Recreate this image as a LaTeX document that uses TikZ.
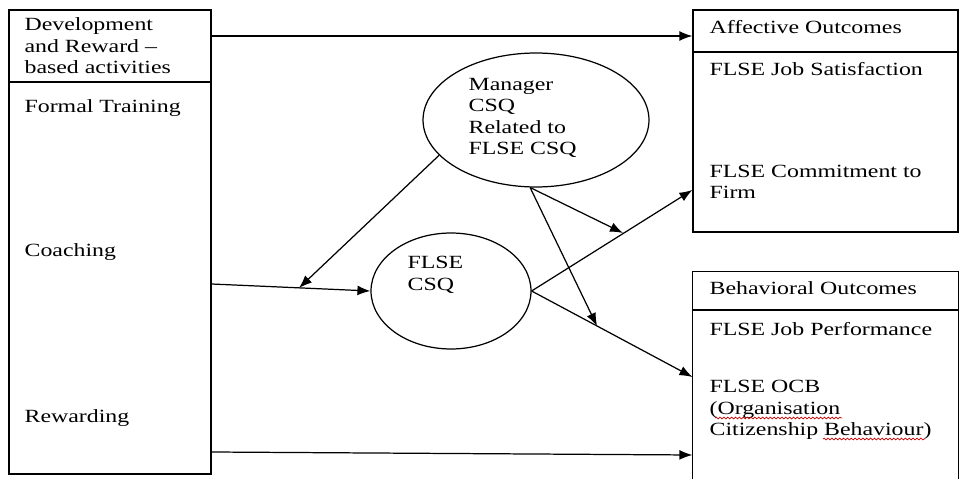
\documentclass[tikz,border=0pt]{standalone}
\usepackage{fontspec}
\setmainfont[FakeStretch=1.28]{Liberation Serif}
\usetikzlibrary{arrows.meta,shapes.geometric,decorations.pathmorphing}

\begin{document}
\begin{tikzpicture}[x=0.02cm,y=-0.02cm,>={Latex[length=7.4pt,width=5.6pt]},line width=0.7pt,
	font=\fontsize{10.6}{12.2}\selectfont,
	box/.style={draw,rectangle,inner sep=0pt},
	txt/.style={anchor=west,inner sep=0pt,align=left},
	oval/.style={draw,ellipse,inner sep=0pt},
	squig/.style={draw=red!80!black,line width=0.4pt,decorate,
		decoration={snake,amplitude=0.5pt,segment length=2.2pt}}]

\useasboundingbox (0,0) rectangle (959,479);

% boxes
\node[box,minimum width=4.04cm,minimum height=9.28cm] (src) at (110,242) {};
\node[box,minimum width=5.3cm,minimum height=4.44cm] (aff) at (825.5,121) {};
\node[inner sep=0pt,minimum width=5.3cm,minimum height=4.14cm] (beh) at (825.5,375.5) {};
\draw (beh.south west) |- (beh.north east) -- (beh.south east);

\draw (src.west |- 0,82) -- (src.east |- 0,82);
\draw (aff.west |- 0,52) -- (aff.east |- 0,52);
\draw (beh.west |- 0,310) -- (beh.east |- 0,310);

% ovals
\node[oval,minimum width=4.52cm,minimum height=2.68cm] (mgr) at (536,120) {};
\node[oval,minimum width=3.2cm,minimum height=2.32cm] (flse) at (451,291) {};

% texts
\node[txt] (hdr) at (24,46) {Development\\and Reward --\\based activities};
\node[txt] (train) at (24,108) {Formal Training};
\node[txt] (coach) at (24,252) {Coaching};
\node[txt] (reward) at (24,418) {Rewarding};

\node[txt] (mgrtxt) at (468,118) {Manager\\CSQ\\Related to\\FLSE CSQ};
\node[txt] (flsetxt) at (407,275) {FLSE\\CSQ};

\node[txt] (afftitle) at (709,27) {Affective Outcomes};
\node[txt] (sat) at (709,69) {FLSE Job Satisfaction};
\node[txt] (commit) at (709,182) {FLSE Commitment to\\Firm};

\node[txt] (behtitle) at (709,288) {Behavioral Outcomes};
\node[txt] (perf) at (709,329) {FLSE Job Performance};
\node[txt] (ocb) at (709,410) {FLSE OCB\\(Organisation\\Citizenship Behaviour)};

\draw[squig] (715,418) -- (842,418);
\draw[squig] (823,439) -- (925,439);

% connectors
\coordinate (hit) at (299,288);
\coordinate (m1) at (623,233);
\coordinate (m2) at (597,326);

\draw[->] (src.east |- 0,36) -- (aff.west |- 0,36);
\draw[->] (src.east |- 0,284) -- (flse.west);
\draw[->] (mgr.200) -- (hit);
\draw[->] (mgr.265) -- (m1);
\draw[->] (mgr.265) -- (m2);
\draw[->] (flse.east) -- (aff.west |- 0,190);
\draw[->] (flse.east) -- (beh.west |- 0,377);
\draw[->] (src.east |- 0,452) -- (beh.west |- 0,455);

\end{tikzpicture}
\end{document}
